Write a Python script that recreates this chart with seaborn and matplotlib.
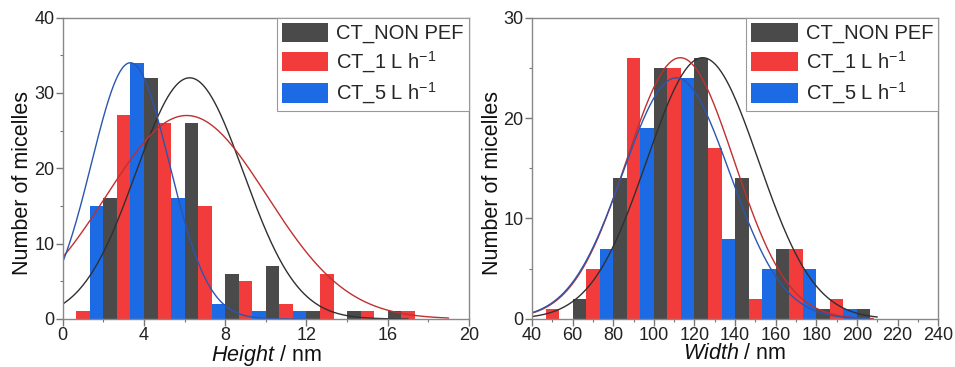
import numpy as np
import pandas as pd
import matplotlib
matplotlib.use("Agg")
import matplotlib.pyplot as plt
from matplotlib.patches import Patch
from matplotlib.ticker import MultipleLocator
import seaborn as sns

# ---------------- data ----------------
series = ["CT_NON PEF", "CT_1 L h$^{-1}$", "CT_5 L h$^{-1}$"]

height_bin_left = [0, 2, 4, 6, 8, 10, 12, 14, 16]
height_nonpef = [0, 16, 32, 26, 6, 7, 1, 1, 1]
height_1L = [1, 27, 26, 15, 5, 2, 6, 1, 1]
height_5L = [15, 34, 16, 2, 1, 1, 0, 0, 0]

width_bin_left = [40, 60, 80, 100, 120, 140, 160, 180, 200]
width_nonpef = [0, 2, 14, 25, 26, 14, 7, 1, 1]
width_1L = [1, 5, 26, 25, 17, 2, 7, 2, 0]
width_5L = [0, 7, 19, 24, 8, 5, 5, 1, 0]

# Gaussian fit parameters: amplitude, centre, sigma, x range
height_fit_amp = [32, 27, 34]
height_fit_center = [6.25, 6.1, 3.33]
height_fit_sigma = [2.65, 3.95, 1.92]
height_fit_end = [17, 19, 12]

width_fit_amp = [26, 26, 24]
width_fit_center = [124, 113, 111]
width_fit_sigma = [27.5, 26.5, 26.3]
width_fit_end = [210, 208, 206]

bar_colors = ["#4a4a4a", "#f23c3c", "#1d6ae5"]
line_colors = ["#303030", "#c0302f", "#2a56b0"]

# ---------------- style ----------------
sns.set_style("ticks")
plt.rcParams["font.family"] = ["Liberation Sans", "DejaVu Sans"]
plt.rcParams["mathtext.fontset"] = "custom"
plt.rcParams["mathtext.rm"] = "Liberation Sans"
plt.rcParams["mathtext.it"] = "Liberation Sans:italic"
plt.rcParams["mathtext.default"] = "regular"

fig = plt.figure(figsize=(9.55, 3.67), dpi=100)
axL = fig.add_axes([0.0657, 0.1308, 0.4253, 0.8215])
axR = fig.add_axes([0.5571, 0.1308, 0.4253, 0.8215])


def draw(ax, bin_left, counts, bw, amps, centers, sigmas, ends, x0, x1, y1,
         xmajor, xminor, ymajor, yminor, xlabel, ylab_x):
    rows = []
    for s, c in zip(series, counts):
        for b, v in zip(bin_left, c):
            rows.append({"x": b + bw / 2, "count": v, "series": s})
    df = pd.DataFrame(rows)
    sns.histplot(data=df, x="x", weights="count", hue="series",
                 hue_order=series, binwidth=bw,
                 binrange=(bin_left[0], bin_left[-1] + bw),
                 multiple="dodge", shrink=1,
                 palette=bar_colors, alpha=1, edgecolor="none",
                 linewidth=0, legend=False, ax=ax)
    for a, m, sd, e, col in zip(amps, centers, sigmas, ends, line_colors):
        xs = np.linspace(x0 - (x1 - x0) * 0.05, e, 400)
        ys = a * np.exp(-(xs - m) ** 2 / (2 * sd ** 2))
        sns.lineplot(x=xs, y=ys, color=col, lw=1.0, ax=ax)
    ax.set_xlim(x0, x1)
    ax.set_ylim(0, y1)
    ax.xaxis.set_major_locator(MultipleLocator(xmajor))
    ax.xaxis.set_minor_locator(MultipleLocator(xminor))
    ax.yaxis.set_major_locator(MultipleLocator(ymajor))
    ax.yaxis.set_minor_locator(MultipleLocator(yminor))
    ax.tick_params(which="major", direction="out", length=5, width=1,
                   color="#777777", labelsize=13, labelcolor="#222222", pad=1)
    ax.tick_params(which="minor", direction="out", length=2.5, width=0.8,
                   color="#777777")
    for sp in ax.spines.values():
        sp.set_visible(True)
        sp.set_color("#888888")
        sp.set_linewidth(1.0)
    ax.set_xlabel(xlabel, fontsize=15.5, labelpad=-1, color="#111111")
    ax.set_ylabel("Number of micelles", fontsize=15.5, color="#111111",
                  va="center")
    ax.yaxis.set_label_coords(ylab_x, 0.45)
    handles = [Patch(facecolor=c, edgecolor="none") for c in bar_colors]
    leg = ax.legend(handles, series, loc="upper right", fontsize=14.5,
                    frameon=True, fancybox=False, framealpha=1,
                    edgecolor="#999999", borderaxespad=0.0, borderpad=0.25,
                    handlelength=2.3, handleheight=1.1, handletextpad=0.4,
                    labelspacing=0.3)
    leg.get_frame().set_linewidth(0.8)


draw(axL, height_bin_left, [height_nonpef, height_1L, height_5L], 2,
     height_fit_amp, height_fit_center, height_fit_sigma, height_fit_end,
     0, 20, 40, 4, 2, 10, 5, r"$\mathit{Height}$ / nm", -0.1)
draw(axR, width_bin_left, [width_nonpef, width_1L, width_5L], 20,
     width_fit_amp, width_fit_center, width_fit_sigma, width_fit_end,
     40, 240, 30, 20, 10, 10, 5, r"$\mathit{Width}$ / nm", -0.097)

fig.savefig("out.png", dpi=100)
